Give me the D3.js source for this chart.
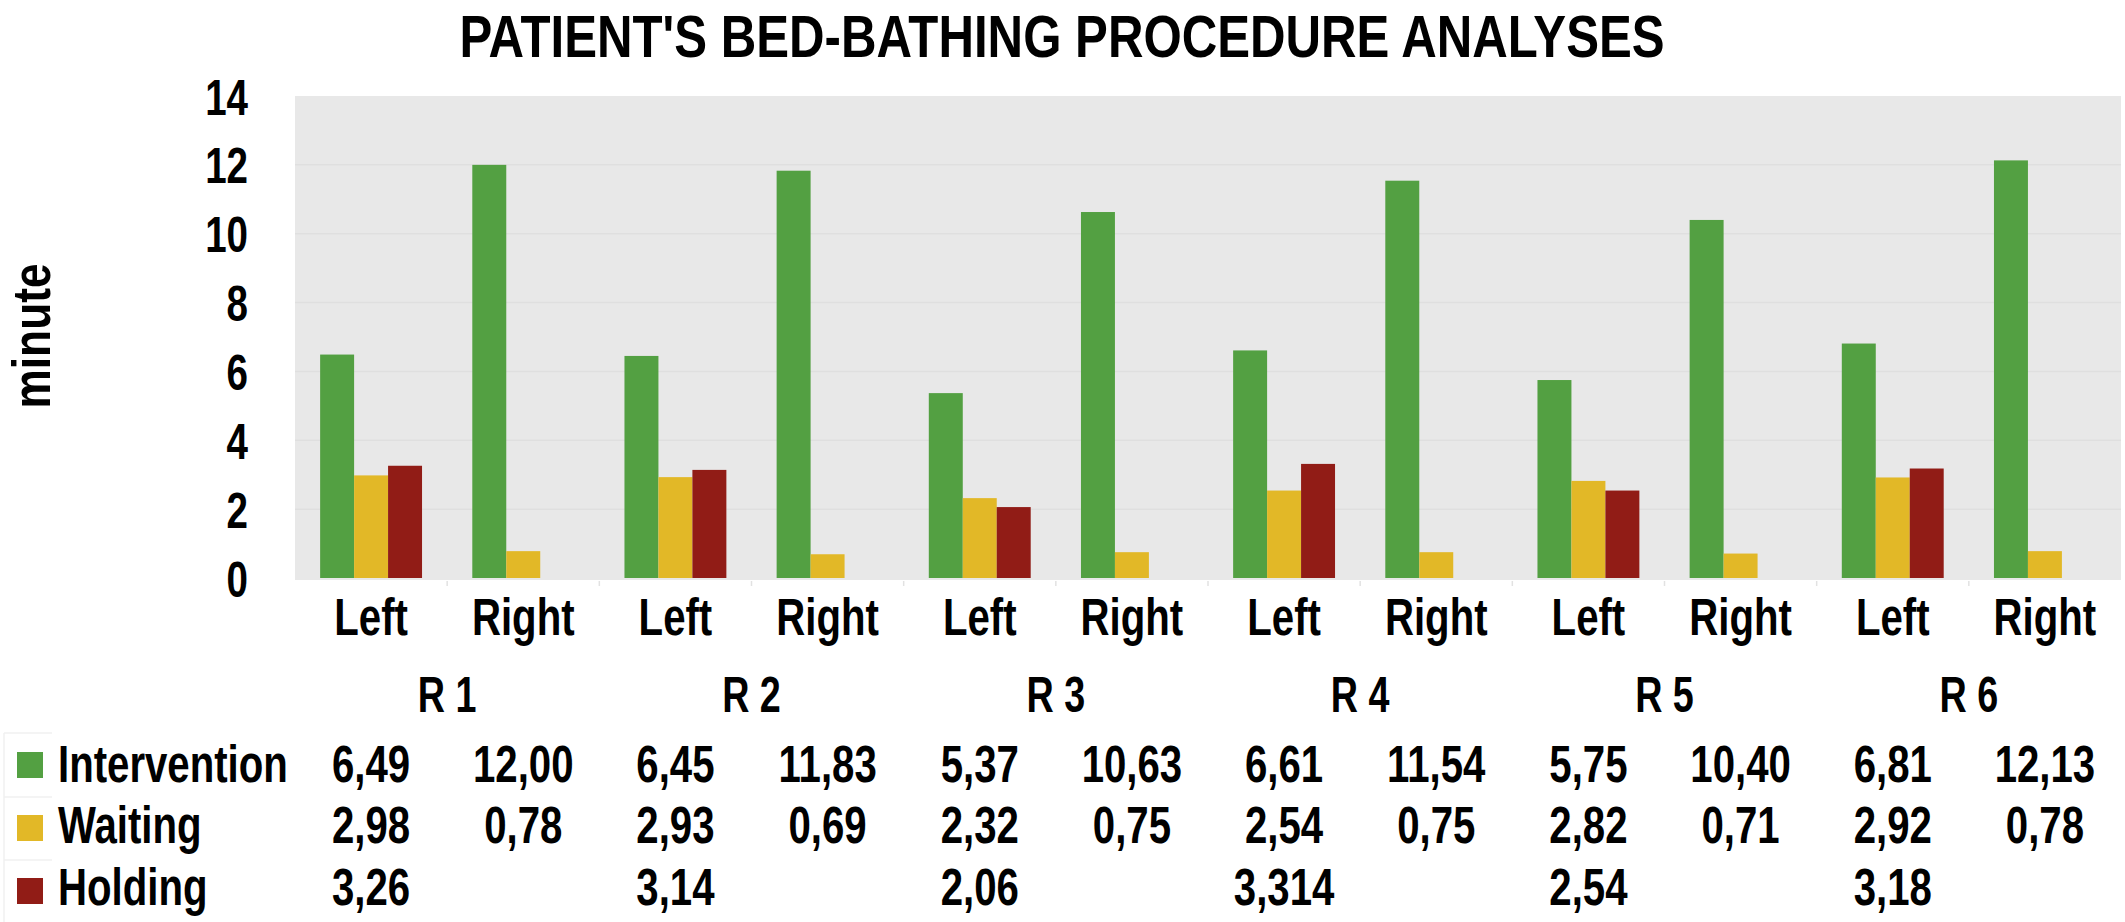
<!DOCTYPE html>
<html>
<head>
<meta charset="utf-8">
<script src="https://cdn.jsdelivr.net/npm/d3@7"></script>
<style>
  html, body { margin: 0; padding: 0; background: #ffffff; }
  svg { display: block; }
</style>
</head>
<body>
<div id="chart"></div>
<script>
// ---------------- data ----------------
const title = "PATIENT'S BED-BATHING PROCEDURE ANALYSES";
const yLabel = "minute";
const groups = ["R 1", "R 2", "R 3", "R 4", "R 5", "R 6"];
const sides = ["Left", "Right"];
const seriesNames = ["Intervention", "Waiting", "Holding"];
const intervention = [6.49, 12.00, 6.45, 11.83, 5.37, 10.63, 6.61, 11.54, 5.75, 10.40, 6.81, 12.13];
const waiting      = [2.98, 0.78, 2.93, 0.69, 2.32, 0.75, 2.54, 0.75, 2.82, 0.71, 2.92, 0.78];
const holding      = [3.26, null, 3.14, null, 2.06, null, 3.314, null, 2.54, null, 3.18, null];
const yTicks = [0, 2, 4, 6, 8, 10, 12, 14];
const colors = ["#53a042", "#e2b827", "#911c16"];

// ---------------- setup ----------------
const W = 2125, H = 922;
const seriesValues = [intervention, waiting, holding];
const cats = groups.flatMap(g => sides.map(s => g + "|" + s));

function hasFont(name) {
  const c = document.createElement("canvas").getContext("2d");
  const t = "Intervention 0123456789 Right";
  c.font = "bold 40px monospace";
  const a = c.measureText(t).width;
  c.font = `bold 40px "${name}", monospace`;
  const b = c.measureText(t).width;
  return Math.abs(a - b) > 0.5;
}
const narrow = hasFont("Liberation Sans Narrow");
const FAM = narrow ? '"Liberation Sans Narrow", "Liberation Sans", Arial, sans-serif' : '"Liberation Sans", Arial, sans-serif';
const SX = narrow ? 1 : 0.82;
const SY = 1.07;

const svg = d3.select("#chart").append("svg")
  .attr("width", W).attr("height", H)
  .attr("font-family", FAM).attr("font-weight", "bold").attr("fill", "#000");

const x0 = d3.scaleBand().domain(cats).range([295, 2121]).padding(0);
const x1 = d3.scaleBand().domain(seriesNames).range([0, x0.bandwidth()]).paddingInner(0).paddingOuter(0.74);
const y = d3.scaleLinear().domain([0, 14]).range([578, 96]);

function txt(g, x, yy, str, size, anchor, sy) {
  return g.append("text")
    .attr("transform", `translate(${x},${yy}) scale(${SX},${sy || SY})`)
    .attr("font-size", size)
    .attr("text-anchor", anchor || "middle")
    .text(str);
}
function fmt(v) {
  const r = Math.round(v * 100);
  let s = Math.abs(v * 100 - r) < 1e-6 ? v.toFixed(2) : String(v);
  return s.replace(".", ",");
}

// ---------------- title ----------------
txt(svg, 1062, 57, title, 60, "middle", 1.0);

// ---------------- plot background & grid ----------------
const [px0, px1] = x0.range();
svg.append("rect")
  .attr("x", px0).attr("y", y(14))
  .attr("width", px1 - px0).attr("height", y(0) - y(14) + 2)
  .attr("fill", "#e8e8e8");
svg.append("g").selectAll("line").data(yTicks.filter(t => t > 0 && t < 14)).join("line")
  .attr("x1", px0).attr("x2", px1)
  .attr("y1", d => y(d)).attr("y2", d => y(d))
  .attr("stroke", "#dfdfdf").attr("stroke-width", 1.5);

// faint boundary ticks under the axis
svg.append("g").selectAll("line").data(cats.slice(1)).join("line")
  .attr("x1", d => x0(d)).attr("x2", d => x0(d))
  .attr("y1", y(0) + 3).attr("y2", y(0) + 8)
  .attr("stroke", "#e2e2e2").attr("stroke-width", 1.5);

// ---------------- bars ----------------
const barG = svg.append("g");
seriesNames.forEach((s, si) => {
  const vals = seriesValues[si];
  barG.append("g").attr("fill", colors[si])
    .selectAll("rect")
    .data(cats.map((c, i) => ({ c, v: vals[i] })).filter(d => d.v != null))
    .join("rect")
    .attr("x", d => x0(d.c) + x1(s))
    .attr("width", x1.bandwidth())
    .attr("y", d => y(d.v))
    .attr("height", d => y(0) - y(d.v));
});

// ---------------- y axis ----------------
const gY = svg.append("g").attr("transform", "translate(248,0)")
  .call(d3.axisLeft(y).tickValues(yTicks).tickSize(0).tickPadding(0).tickFormat(d3.format("d")));
gY.select(".domain").remove();
gY.attr("font-family", FAM).attr("font-size", 47).attr("font-weight", "bold");
gY.selectAll("text")
  .attr("x", 0).attr("dy", "0.36em")
  .attr("fill", "#000")
  .attr("transform", `scale(${SX},${SY})`);

// y label
svg.append("text")
  .attr("transform", `translate(50,336) rotate(-90) scale(${SX},1.0)`)
  .attr("font-size", 54).attr("text-anchor", "middle")
  .text(yLabel);

// ---------------- x axis (side labels) ----------------
const gX = svg.append("g").attr("transform", "translate(0,635)")
  .call(d3.axisBottom(x0).tickSize(0).tickPadding(0).tickFormat(d => d.split("|")[1]));
gX.select(".domain").remove();
gX.attr("font-family", FAM).attr("font-size", 49).attr("font-weight", "bold");
gX.selectAll("text")
  .attr("y", 0).attr("dy", 0)
  .attr("fill", "#000")
  .attr("transform", `scale(${SX},${SY})`);

// group labels
groups.forEach(g => {
  const cx = x0(g + "|" + sides[1]);
  txt(svg, cx, 712, g, 46, "middle");
});

// ---------------- data table ----------------
const rowBase = [782, 843, 905];
const sqTop = [752, 815, 878];
const tbl = svg.append("g");
// faint cell lines
tbl.append("line").attr("x1", 4).attr("x2", 4).attr("y1", 733).attr("y2", 922)
  .attr("stroke", "#f0f0f0").attr("stroke-width", 1.5);
[733, 797, 860].forEach(yy => {
  tbl.append("line").attr("x1", 4).attr("x2", 52).attr("y1", yy).attr("y2", yy)
    .attr("stroke", "#f0f0f0").attr("stroke-width", 1.5);
});
seriesNames.forEach((s, si) => {
  tbl.append("rect").attr("x", 17).attr("y", sqTop[si])
    .attr("width", 26).attr("height", 26).attr("fill", colors[si]);
  txt(tbl, 58, rowBase[si], s, 49, "start");
  cats.forEach((c, i) => {
    const v = seriesValues[si][i];
    if (v == null) return;
    txt(tbl, x0(c) + x0.bandwidth() / 2, rowBase[si], fmt(v), 49, "middle");
  });
});
</script>
</body>
</html>
